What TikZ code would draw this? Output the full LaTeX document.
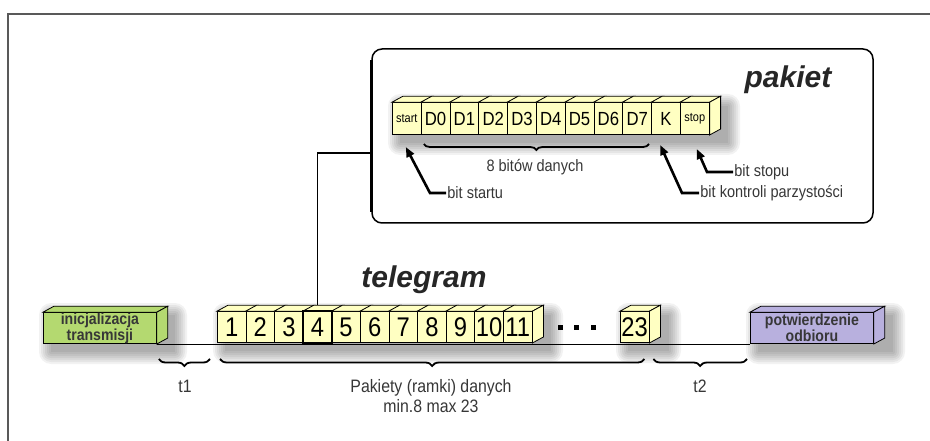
\documentclass[tikz,border=0pt]{standalone}
\usepackage{fontspec}
\setmainfont[FakeStretch=0.88]{Liberation Sans}
\newfontfamily\titlefont{Liberation Sans}
\usetikzlibrary{backgrounds,decorations.pathreplacing,arrows.meta,calc}

\definecolor{cellyellow}{RGB}{255,255,194}
\definecolor{initgreen}{RGB}{180,217,112}
\definecolor{ackviolet}{RGB}{184,176,222}
\definecolor{textgrey}{RGB}{55,55,55}

% top and right face of a box node (depth 11 right, 6 up)
\newcommand{\topface}[2]{\filldraw[fill=#2] (#1.north west) -- ++(11,-6) -- ($(#1.north east)+(11,-6)$) -- (#1.north east) -- cycle;}
\newcommand{\sideface}[2]{\filldraw[fill=#2] (#1.north east) -- ++(11,-6) -- ($(#1.south east)+(11,-6)$) -- (#1.south east) -- cycle;}
% blurred grey shadow under a row of boxes
\newcommand{\softshadow}[4]{\foreach \k in {0,2,...,12}{\fill[black,opacity=.05,rounded corners=\k pt] ({#1+8-\k},{#2+8-\k}) rectangle ({#3+8+\k},{#4+8+\k});}}

\begin{document}
\begin{tikzpicture}[x=1pt,y=-1pt,thick]
    % `cell' is one byte of the telegram, `bit' one bit of a packet.
    % `endbox' is used for the first and last block of the line.
    \tikzstyle{cell} = [draw,fill=cellyellow,anchor=south west,minimum width=28.6pt,minimum height=31pt,inner sep=0pt,font=\fontsize{27}{27}\selectfont]
    \tikzstyle{bit} = [draw,fill=cellyellow,anchor=south west,minimum width=28.8pt,minimum height=32pt,inner sep=0pt,font=\fontsize{19}{19}\selectfont]
    \tikzstyle{endbox} = [draw,anchor=south west,minimum height=31pt,inner sep=0pt,align=center,text=textgrey,font=\bfseries\fontsize{16}{13.5}\selectfont]
    \tikzstyle{lbl} = [inner sep=1pt,text=textgrey,font=\fontsize{16.5}{18}\selectfont]
    \tikzstyle{title} = [font=\titlefont\bfseries\itshape\fontsize{30}{30}\selectfont,text=black!85]
    \tikzstyle{pointer} = [line width=2.6pt,-{Triangle[length=10pt,width=8pt]}]
    \tikzstyle{bracebelow} = [line width=1.8pt,decorate,decoration={brace,mirror,amplitude=7pt}]
    %
    \useasboundingbox (0,0) rectangle (930,441);
    \draw[line width=1.2pt,black!65] (8,441) -- (8,14) -- (930,14);

    % packet
    \node[draw,line width=1.5pt,rounded corners=10pt,minimum width=501pt,minimum height=174pt] (pakietbox) at (622.5,136) {};
    \draw[line width=3pt] ($(pakietbox.north west)+(0,12)$) -- ($(pakietbox.south west)+(0,-12)$);
    \node[title] (pakiet) at (788,80) {pakiet};

    \node[bit,font=\fontsize{12.5}{12.5}\selectfont] (bstart) at (392,135) {start};
    \foreach \t [count=\i from 0] in {D0,D1,D2,D3,D4,D5,D6,D7,K}
      \node[bit] (b\t) at ({420.8+\i*28.8},135) {\t};
    \node[bit,font=\fontsize{12.5}{12.5}\selectfont] (bstop) at (680,135) {stop};
    \foreach \t in {start,D0,D1,D2,D3,D4,D5,D6,D7,K,stop}
      {\topface{b\t}{cellyellow}}
    \sideface{bstop}{cellyellow}

    \draw[line width=1.8pt,decorate,decoration={brace,mirror,amplitude=6pt}]
      ($(bD0.south west)+(3,9)$) -- ($(bD7.south east)+(-3,9)$);
    \node[lbl] (databits) at (535,167) {8 bitów danych};

    \node[lbl,anchor=west] (lblstart) at (446,193) {bit startu};
    \node[lbl,anchor=west] (lblparity) at (699,193) {bit kontroli parzystości};
    \node[lbl,anchor=west] (lblstop) at (733,172) {bit stopu};
    \draw[pointer] (lblstart.west) -- ++(-16,0) -- ($(bstart.south)+(-1,12)$);
    \draw[pointer] (lblparity.west) -- ++(-17,0) -- ($(bK.south west)+(9,10)$);
    \draw[pointer] (lblstop.west) -- ++(-26,0) -- ($(bstop.south)+(2,14)$);

    % telegram
    \node[title] (telegram) at (424,280) {telegram};
    \node[endbox,fill=initgreen,minimum width=113pt] (init) at (43,344) {inicjalizacja\\transmisji};
    \foreach \n [count=\i from 0] in {1,...,11}
      \node[cell] (c\n) at ({217+\i*28.6},343) {\n};
    \node[cell] (c23) at (620,343) {23};
    \node[endbox,fill=ackviolet,minimum width=123pt] (ack) at (750,344) {potwierdzenie\\odbioru};
    \foreach \n in {1,...,11,23}
      {\topface{c\n}{cellyellow}}
    \sideface{c11}{cellyellow}
    \sideface{c23}{cellyellow}
    \topface{init}{initgreen}
    \sideface{init}{initgreen}
    \topface{ack}{ackviolet}
    \sideface{ack}{ackviolet}
    \draw[line width=2.5pt] (c4.south west) rectangle (c4.north east);
    \foreach \x in {560,576,593}
      \fill (\x-2.5,324.5) rectangle (\x+2.5,329.5);

    \draw[bracebelow] ($(init.south east)+(2,15)$) -- ($(c1.south west)+(-7,16)$);
    \draw[bracebelow] ($(c1.south west)+(3,16)$) -- ($(c23.south east)+(-5,16)$);
    \draw[bracebelow] ($(c23.south east)+(4,16)$) -- ($(ack.south west)+(-3,15)$);
    \node[lbl,font=\fontsize{18}{20}\selectfont] (t1) at (185,386) {t1};
    \node[lbl,font=\fontsize{18}{20}\selectfont,align=center] (pakiety) at (431,396) {Pakiety (ramki) danych\\min.8 max 23};
    \node[lbl,font=\fontsize{18}{20}\selectfont] (t2) at (700,386) {t2};

    \begin{pgfonlayer}{background}
      % paper, shadows and lines
      \fill[white] (0,0) rectangle (930,441);
      \softshadow{392}{98}{720}{135}
      \softshadow{43}{307}{167}{344}
      \softshadow{217}{307}{543}{343}
      \softshadow{620}{307}{661}{343}
      \softshadow{750}{307}{885}{344}
      \coordinate (link) at (372,153);
      \draw[line width=1.5pt] (c4.north) |- (link);
      \draw[thin] (init.south east) -- (ack.south west);
    \end{pgfonlayer}
\end{tikzpicture}
\end{document}
